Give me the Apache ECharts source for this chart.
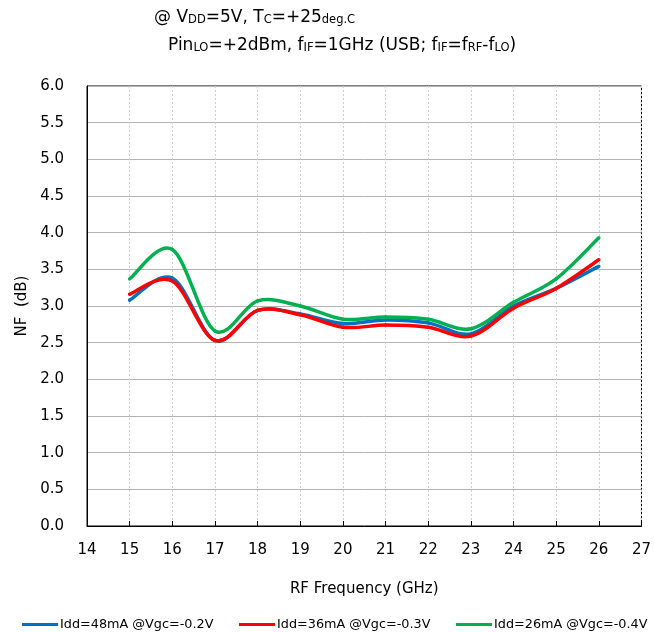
<!DOCTYPE html>
<html><head><meta charset="utf-8">
<script src="https://cdn.jsdelivr.net/npm/echarts@6/dist/echarts.min.js"></script>
<style>html,body{margin:0;padding:0;background:#fff}#c{width:654px;height:632px}</style>
</head><body><div id="c"></div>
<script>
const freqs = [15,16,17,18,19,20,21,22,23,24,25,26];
const nfIdd48 = [3.08,3.38,2.53,2.94,2.89,2.76,2.81,2.77,2.62,3.00,3.24,3.54];
const nfIdd36 = [3.16,3.34,2.53,2.94,2.88,2.71,2.74,2.71,2.59,2.97,3.24,3.63];
const nfIdd26 = [3.37,3.77,2.66,3.07,3.00,2.82,2.85,2.82,2.69,3.05,3.37,3.93];
const seriesNames = ['Idd=48mA @Vgc=-0.2V','Idd=36mA @Vgc=-0.3V','Idd=26mA @Vgc=-0.4V'];
const colors = ['#0070C0','#FF0000','#00B050'];
const FONT = 'DejaVu Sans';
const pair = (xs, ys) => xs.map((x,i)=>[x,ys[i]]);
const chart = echarts.init(document.getElementById('c'), null, {renderer:'canvas'});
const big = {fontSize:17, fontFamily:FONT, fontWeight:'normal', color:'#000', verticalAlign:'bottom'};
const sm = {fontSize:11.5, fontFamily:FONT, fontWeight:'normal', color:'#000', verticalAlign:'bottom'};

// smooth (Catmull-Rom style, like a spreadsheet "smoothed line") drawn through the axis scales
function makeRender(ys, color){
  return function(params, api){
    const i = params.dataIndex;
    const n = freqs.length;
    if (i >= n-1) return;
    const c = k => Math.max(0, Math.min(n-1, k));
    const P = k => api.coord([freqs[c(k)], ys[c(k)]]);
    const p0 = P(i-1), p1 = P(i), p2 = P(i+1), p3 = P(i+2);
    const t = 1/6;
    return {
      type:'bezierCurve',
      shape:{x1:p1[0], y1:p1[1], x2:p2[0], y2:p2[1],
        cpx1:p1[0]+(p2[0]-p0[0])*t, cpy1:p1[1]+(p2[1]-p0[1])*t,
        cpx2:p2[0]-(p3[0]-p1[0])*t, cpy2:p2[1]-(p3[1]-p1[1])*t},
      style:{stroke:color, lineWidth:3.5, fill:null, lineCap:'round'}
    };
  };
}

chart.setOption({
  animation:false,
  textStyle:{fontFamily:FONT},
  title:[
    {left:149, top:4, text:'{a|@ V}{s|DD}{a|=5V, T}{s|C}{a|=+25}{s|deg.C}', textStyle:{fontWeight:'normal', rich:{a:big,s:sm}}},
    {left:163, top:32, text:'{a|Pin}{s|LO}{a|=+2dBm, f}{s|IF}{a|=1GHz (USB; f}{s|IF}{a|=f}{s|RF}{a|-f}{s|LO}{a|)}', textStyle:{fontWeight:'normal', rich:{a:big,s:sm}}}
  ],
  legend: seriesNames.map((n,i)=>({
    data:[{name:n, itemStyle:{color:colors[i]}}], bottom:-4, left:[17,234,451][i], icon:'rect', itemWidth:36, itemHeight:3, itemGap:0,
    textStyle:{fontSize:12.8, fontFamily:FONT, color:'#000', padding:[0,0,0,-3]}
  })),
  grid:{left:87, right:10, top:86, bottom:106, show:true, borderColor:'#000', borderWidth:1, containLabel:false},
  xAxis:{type:'value', min:14, max:27, interval:1,
    name:'RF Frequency (GHz)', nameLocation:'middle', nameGap:56,
    nameTextStyle:{fontSize:15, fontFamily:FONT, color:'#000'},
    axisLine:{lineStyle:{color:'#000', width:1}},
    axisTick:{show:true, inside:true, length:5, lineStyle:{color:'#000'}},
    axisLabel:{fontSize:15, fontFamily:FONT, color:'#000', margin:17},
    splitLine:{show:true, lineStyle:{color:'#d0d0d0', type:[2,2], width:1}}
  },
  yAxis:{type:'value', min:0, max:6, interval:0.5,
    name:'NF  (dB)', nameLocation:'middle', nameGap:48,
    nameTextStyle:{fontSize:15, fontFamily:FONT, color:'#000'},
    axisLine:{show:true, lineStyle:{color:'#000', width:1}},
    axisTick:{show:false},
    axisLabel:{fontSize:15, fontFamily:FONT, color:'#000', margin:23, formatter:v=>v.toFixed(1)},
    splitLine:{show:true, lineStyle:{color:'#b4b4b4', width:1}}
  },
  series:[nfIdd48,nfIdd36,nfIdd26].map((d,i)=>({
    name:seriesNames[i], type:'custom', data:pair(freqs,d), encode:{x:0, y:1},
    renderItem:makeRender(d, colors[i]), itemStyle:{color:colors[i]}, clip:true, z:2+i
  }))
});
</script></body></html>
